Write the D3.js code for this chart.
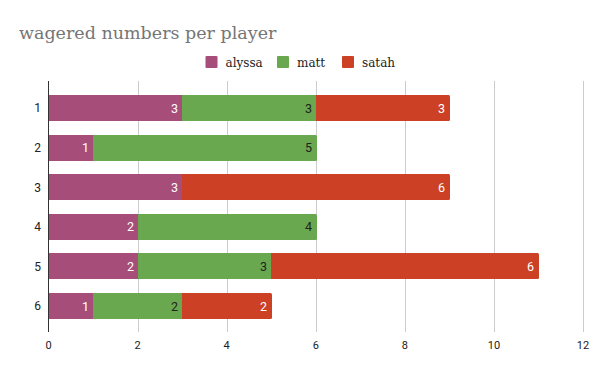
<!DOCTYPE html>
<html>
<head>
<meta charset="utf-8">
<script src="https://cdn.jsdelivr.net/npm/d3@7"></script>
<style>
  body { margin: 0; background: #fff; }
  svg { display: block; }
</style>
</head>
<body>
<div id="chart"></div>
<script>
var categories = ["1", "2", "3", "4", "5", "6"];
var players = ["alyssa", "matt", "satah"];
var alyssa = [3, 1, 3, 2, 2, 1];
var matt = [3, 5, 0, 4, 3, 2];
var satah = [3, 0, 6, 0, 6, 2];
var xTicks = [0, 2, 4, 6, 8, 10, 12];

var colors = {alyssa: "#a64d79", matt: "#6aa84f", satah: "#cc4125"};
var labelColors = {alyssa: "#ffffff", matt: "#222222", satah: "#ffffff"};

var width = 600, height = 371;

var rows = categories.map(function(c, i) {
  return {cat: c, alyssa: alyssa[i], matt: matt[i], satah: satah[i]};
});

var stacked = d3.stack().keys(players)(rows);

var svg = d3.select("#chart").append("svg")
  .attr("width", width)
  .attr("height", height);

var x = d3.scaleLinear().domain([0, 12]).range([48.5, 583]);
var y = d3.scaleBand().domain(categories).range([88.3, 325.8]).paddingInner(0.34).paddingOuter(0.17);
var px = function(v) { return Math.round(x(v)); };

// title
svg.append("text")
  .attr("x", 19)
  .attr("y", 39)
  .style("font-family", "'DejaVu Serif', 'Liberation Serif', serif")
  .style("font-size", "17.5px")
  .style("fill", "#757575")
  .text("wagered numbers per player");

// legend
var legendX = [205.5, 277, 342];
var legend = svg.selectAll(".legend").data(players).enter()
  .append("g")
  .attr("transform", function(d, i) { return "translate(" + legendX[i] + ",56)"; });
legend.append("rect")
  .attr("width", 12).attr("height", 12).attr("rx", 1)
  .style("fill", function(d) { return colors[d]; });
legend.append("text")
  .attr("x", 20).attr("y", 10.5)
  .style("font-family", "'DejaVu Serif', 'Liberation Serif', serif")
  .style("font-size", "12px")
  .style("fill", "#222")
  .text(function(d) { return d; });

// gridlines
svg.append("g").selectAll("line")
  .data(xTicks.filter(function(t) { return t > 0; })).enter()
  .append("line")
  .attr("x1", function(d) { return px(d) + 0.5; })
  .attr("x2", function(d) { return px(d) + 0.5; })
  .attr("y1", 81).attr("y2", 332)
  .style("stroke", "#cccccc")
  .style("stroke-width", 1);

// bars
var layers = svg.append("g").selectAll("g")
  .data(stacked).enter()
  .append("g")
  .style("fill", function(d) { return colors[d.key]; });

layers.selectAll("rect")
  .data(function(d) { return d.filter(function(s) { return s[1] > s[0]; }); })
  .enter()
  .append("rect")
  .attr("x", function(d) { return px(d[0]); })
  .attr("y", function(d) { return Math.round(y(d.data.cat)); })
  .attr("width", function(d) { return px(d[1]) - px(d[0]); })
  .attr("height", Math.round(y.bandwidth()))
  .attr("shape-rendering", "crispEdges");

// rounded end of the last segment
rows.forEach(function(r) {
  var total = r.alyssa + r.matt + r.satah;
  var last = players.filter(function(p) { return r[p] > 0; }).pop();
  svg.append("rect")
    .attr("x", px(total) - 4)
    .attr("y", Math.round(y(r.cat)))
    .attr("width", 5)
    .attr("height", Math.round(y.bandwidth()))
    .attr("rx", 1.5)
    .style("fill", colors[last]);
});

// segment labels
layers.each(function(layer) {
  d3.select(this).selectAll("text")
    .data(layer.filter(function(d) { return d[1] > d[0]; }))
    .enter()
    .append("text")
    .attr("x", function(d) { return px(d[1]) - 4; })
    .attr("y", function(d) { return y(d.data.cat) + y.bandwidth() / 2; })
    .attr("dy", "0.36em")
    .attr("text-anchor", "end")
    .style("font-family", "Roboto, 'Noto Sans', sans-serif")
    .style("font-size", "12.5px")
    .style("fill", labelColors[layer.key])
    .text(function(d) { return d[1] - d[0]; });
});

// y axis
svg.append("line")
  .attr("x1", 48.5).attr("x2", 48.5)
  .attr("y1", 81).attr("y2", 332)
  .style("stroke", "#333")
  .style("stroke-width", 1);

svg.append("g").selectAll("text")
  .data(categories).enter()
  .append("text")
  .attr("x", 41)
  .attr("y", function(d) { return y(d) + y.bandwidth() / 2; })
  .attr("dy", "0.36em")
  .attr("text-anchor", "end")
  .style("font-family", "Roboto, 'Noto Sans', sans-serif")
  .style("font-size", "12px")
  .style("fill", "#222")
  .text(function(d) { return d; });

// x axis labels
svg.append("g").selectAll("text")
  .data(xTicks).enter()
  .append("text")
  .attr("x", function(d) { return x(d); })
  .attr("y", 345)
  .attr("dy", "0.36em")
  .attr("text-anchor", "middle")
  .style("font-family", "Roboto, 'Noto Sans', sans-serif")
  .style("font-size", "11px")
  .style("fill", "#222")
  .text(function(d) { return d; });
</script>
</body>
</html>
